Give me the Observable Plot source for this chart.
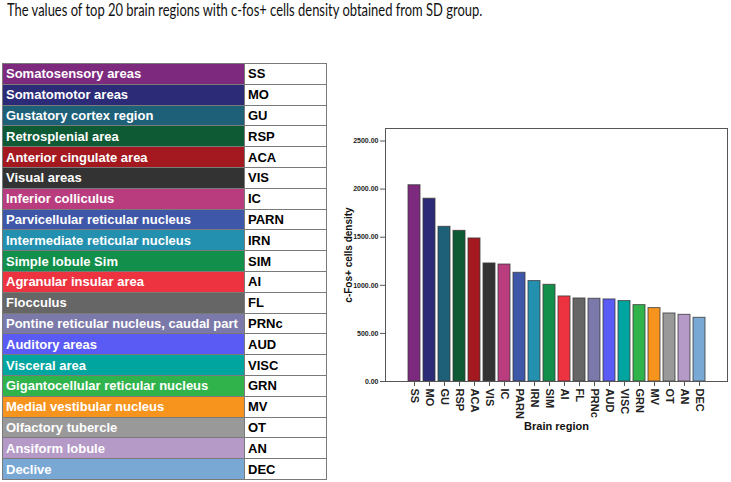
<!DOCTYPE html>
<html>
<head>
<meta charset="utf-8">
<script src="https://cdn.jsdelivr.net/npm/d3@7"></script>
<script src="https://cdn.jsdelivr.net/npm/@observablehq/plot@0.6"></script>
<style>
  body { margin: 0; background: #fff; }
  #wrap { position: relative; width: 731px; height: 482px; overflow: hidden; font-family: "Liberation Sans", Arial, sans-serif; }
  #title { position: absolute; left: 7px; top: 0px; font-family: Lato, "Open Sans", sans-serif; font-size: 16.5px; color: #111; white-space: nowrap; transform: scaleX(0.785); transform-origin: 0 0; }
  #legend { position: absolute; left: 2px; top: 63px; border-collapse: collapse; width: 325px; table-layout: fixed; }
  #legend td { height: 19.8px; padding: 0 0 0 3px; border: 1px solid #7a7a7a; font-weight: bold; font-size: 13px; white-space: nowrap; overflow: hidden; line-height: 19px; }
  #legend td.name { color: #fff; width: 238px; }
  #legend td.code { color: #000; background: #fff; }
  #chart { position: absolute; left: 340px; top: 100px; }
</style>
</head>
<body>
<div id="wrap">
  <div id="title">The values of top 20 brain regions with c-fos+ cells density obtained from SD group.</div>
  <table id="legend"></table>
  <div id="chart"></div>
</div>
<script>
const names = [
  "Somatosensory areas", "Somatomotor areas", "Gustatory cortex region", "Retrosplenial area",
  "Anterior cingulate area", "Visual areas", "Inferior colliculus", "Parvicellular reticular nucleus",
  "Intermediate reticular nucleus", "Simple lobule Sim", "Agranular insular area", "Flocculus",
  "Pontine reticular nucleus, caudal part", "Auditory areas", "Visceral area",
  "Gigantocellular reticular nucleus", "Medial vestibular nucleus", "Olfactory tubercle",
  "Ansiform lobule", "Declive"
];
const codes = ["SS","MO","GU","RSP","ACA","VIS","IC","PARN","IRN","SIM","AI","FL","PRNc","AUD","VISC","GRN","MV","OT","AN","DEC"];
const values = [2040, 1900, 1608, 1566, 1487, 1227, 1216, 1130, 1044, 1005, 884, 863, 860, 853, 836, 794, 763, 707, 693, 662];
const colors = ["#7d2a7e","#2b2b78","#1d6078","#0d5a35","#a3191f","#333333","#b93d7e","#3f57a8","#2490b0","#12904b",
                "#ee3340","#666666","#7b79a9","#5a5af5","#00a5a0","#30b34b","#f7941d","#999999","#b59ac8","#7aa8d4"];
const yTicks = [0, 500, 1000, 1500, 2000, 2500];

// legend table built from the arrays
const table = document.getElementById("legend");
names.forEach((n, i) => {
  const tr = document.createElement("tr");
  const a = document.createElement("td");
  a.className = "name"; a.textContent = n; a.style.background = colors[i];
  const b = document.createElement("td");
  b.className = "code"; b.textContent = codes[i];
  tr.appendChild(a); tr.appendChild(b); table.appendChild(tr);
});

const data = codes.map((c, i) => ({code: c, value: values[i], color: colors[i]}));

const chart = Plot.plot({
  width: 391,
  height: 360,
  marginLeft: 45,
  marginTop: 28,
  marginBottom: 79,
  marginRight: 4,
  style: {fontFamily: "'Liberation Sans', Arial, sans-serif", color: "#222", background: "transparent"},
  x: {domain: codes, paddingInner: 0.2, paddingOuter: 1.2, label: null},
  y: {domain: [0, 2630], label: null},
  marks: [
    Plot.barY(data, {x: "code", y: "value", fill: "color", stroke: "#3a3a3a", strokeWidth: 1, strokeOpacity: 0.8}),
    Plot.frame({stroke: "#555", strokeWidth: 1}),
    Plot.axisY({ticks: yTicks, tickFormat: d => d.toFixed(2), tickSize: 5, tickPadding: 2, fontSize: 7, fontWeight: "bold", label: null, stroke: "#555"}),
    Plot.axisX({tickRotate: 90, tickSize: 5, tickPadding: 2, fontSize: 11, fontWeight: "bold", label: null, stroke: "#555"}),
    Plot.text(["c-Fos+ cells density"], {frameAnchor: "left", textAnchor: "middle", rotate: -90, dx: -37, fontSize: 10, fontWeight: "bold", fill: "#111"}),
    Plot.text(["Brain region"], {frameAnchor: "bottom", dy: 48, fontSize: 11, fontWeight: "bold", fill: "#111"})
  ]
});
document.getElementById("chart").appendChild(chart);
</script>
</body>
</html>
